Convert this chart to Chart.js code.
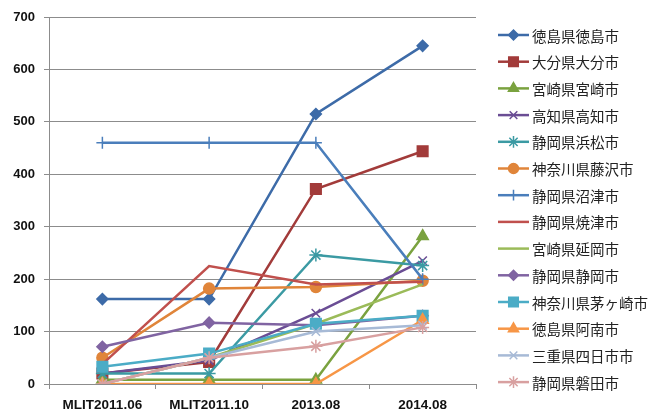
<!DOCTYPE html>
<html>
<head>
<meta charset="utf-8">
<script src="https://cdn.jsdelivr.net/npm/chart.js@4/dist/chart.umd.min.js"></script>
<style>
  html, body { margin: 0; padding: 0; background: #fff; }
  #wrap { width: 661px; height: 412px; }
</style>
</head>
<body>
<div id="wrap"><canvas id="chart"></canvas></div>
<script>
const categories = ['MLIT2011.06', 'MLIT2011.10', '2013.08', '2014.08'];

const cityNames = [
  '徳島県徳島市', '大分県大分市', '宮崎県宮崎市', '高知県高知市', '静岡県浜松市',
  '神奈川県藤沢市', '静岡県沼津市', '静岡県焼津市', '宮崎県延岡市', '静岡県静岡市',
  '神奈川県茅ヶ崎市', '徳島県阿南市', '三重県四日市市', '静岡県磐田市',
];

const tokushima = [162, 162, 515, 645];
const oita = [20, 42, 372, 444];
const miyazaki = [8, 8, 8, 282];
const kochi = [20, 45, 135, 235];
const hamamatsu = [20, 20, 246, 226];
const fujisawa = [50, 182, 185, 197];
const numazu = [460, 460, 460, 200];
const yaizu = [38, 225, 190, 195];
const nobeoka = [0, 50, 115, 190];
const shizuoka = [71, 117, 112, 130];
const chigasaki = [33, 58, 115, 130];
const anan = [0, 0, 0, 122];
const yokkaichi = [0, 50, 100, 112];
const iwata = [0, 50, 72, 108];

const yTicks = [0, 100, 200, 300, 400, 500, 600, 700];

const seriesValues = [tokushima, oita, miyazaki, kochi, hamamatsu, fujisawa, numazu,
  yaizu, nobeoka, shizuoka, chigasaki, anan, yokkaichi, iwata];

const COLORS = ['#3d6ba8', '#a23b3a', '#7aa23f', '#6a4d94', '#3b9aa3', '#e0853a', '#4a7ebb',
  '#c0504d', '#9bbb59', '#8064a2', '#4bacc6', '#f79646', '#a7bad6', '#d8a0a0'];

const MARKERS = [
  { style: 'rectRot', r: 5.5 },
  { style: 'rect', r: 7.5 },
  { style: 'triangle', r: 6.5 },
  { style: 'crossRot', r: 6 },
  { style: 'star', r: 6.5 },
  { style: 'circle', r: 5.5 },
  { style: 'cross', r: 6 },
  { style: false, r: 0 },
  { style: false, r: 0 },
  { style: 'rectRot', r: 5.5 },
  { style: 'rect', r: 7.5 },
  { style: 'triangle', r: 6.5 },
  { style: 'crossRot', r: 6 },
  { style: 'star', r: 6.5 },
];

const datasets = seriesValues.map((values, i) => ({
  label: cityNames[i],
  data: values,
  borderColor: COLORS[i],
  backgroundColor: COLORS[i],
  borderWidth: 2.5,
  pointStyle: MARKERS[i].style,
  pointRadius: MARKERS[i].r,
  pointBorderWidth: 1.5,
  pointHoverRadius: MARKERS[i].r,
  tension: 0,
  // excel draws the first series at the bottom
  order: seriesValues.length - i,
}));

// legend drawn by hand: line + marker like excel
const lineLegend = {
  id: 'lineLegend',
  afterDraw(chart) {
    const ctx = chart.ctx;
    const top = 35;
    const step = 26.7;
    ctx.save();
    chart.data.datasets.forEach((ds, i) => {
      const y = top + i * step;
      ctx.strokeStyle = ds.borderColor;
      ctx.lineWidth = 2.5;
      ctx.beginPath();
      ctx.moveTo(498, y);
      ctx.lineTo(529, y);
      ctx.stroke();
      if (ds.pointStyle) {
        ctx.fillStyle = ds.backgroundColor;
        ctx.strokeStyle = ds.borderColor;
        ctx.lineWidth = 1.5;
        Chart.helpers.drawPoint(ctx, { pointStyle: ds.pointStyle, radius: ds.pointRadius * 0.9, rotation: 0, borderWidth: 1.5 }, 513.5, y);
      }
      ctx.fillStyle = '#222';
      ctx.font = '14.5px "Noto Sans CJK JP"';
      ctx.textBaseline = 'middle';
      ctx.textAlign = 'left';
      ctx.fillText(ds.label, 532, y + 1);
    });
    ctx.restore();
  },
};

new Chart(document.getElementById('chart'), {
  type: 'line',
  data: { labels: categories, datasets },
  plugins: [lineLegend],
  options: {
    responsive: true,
    maintainAspectRatio: false,
    animation: false,
    events: [],
    layout: { padding: { left: 0, right: 185, top: 17, bottom: 0 } },
    plugins: {
      legend: { display: false },
      tooltip: { enabled: false },
    },
    scales: {
      x: {
        offset: true,
        grid: {
          drawOnChartArea: false,
          drawTicks: true,
          tickLength: 5,
          offset: true,
          color: '#8c8c8c',
        },
        border: { color: '#8c8c8c' },
        ticks: {
          color: '#111',
          padding: 8,
          maxRotation: 0,
          font: { family: '"Liberation Sans"', size: 13.5, weight: 'bold' },
        },
        afterFit: (scale) => { scale.height = 28; },
      },
      y: {
        min: 0,
        max: 700,
        afterBuildTicks: (scale) => { scale.ticks = yTicks.map((v) => ({ value: v })); },
        grid: { color: '#8c8c8c', tickLength: 5 },
        border: { color: '#8c8c8c' },
        ticks: {
          color: '#111',
          padding: 9,
          font: { family: '"Liberation Sans"', size: 13, weight: 'bold' },
        },
        afterFit: (scale) => { scale.width = 49; },
      },
    },
  },
});
</script>
</body>
</html>
